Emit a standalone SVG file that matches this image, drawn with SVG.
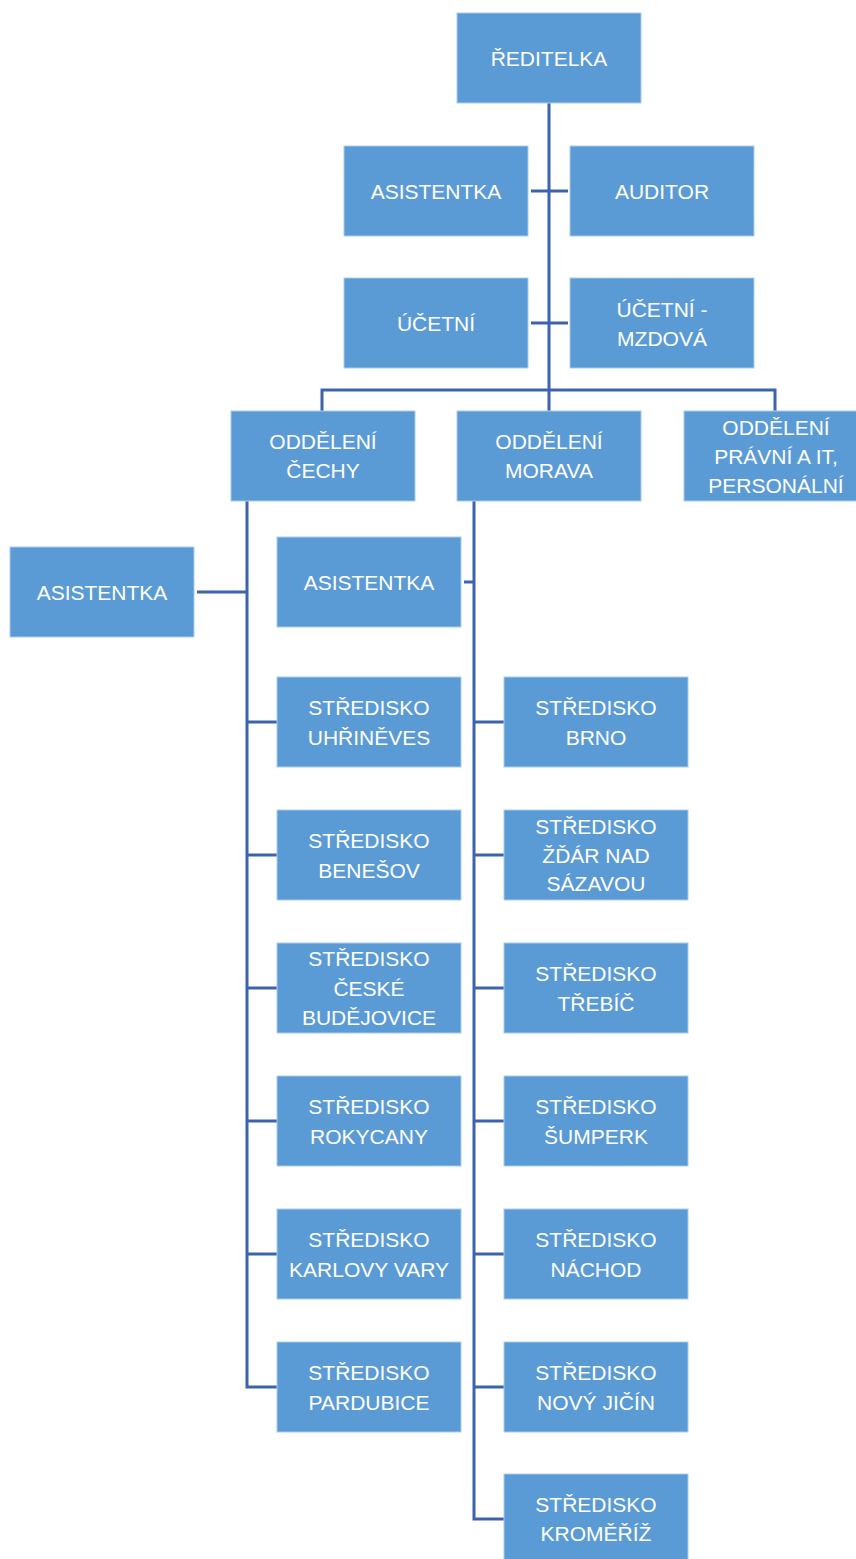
<svg xmlns="http://www.w3.org/2000/svg" width="856" height="1559" viewBox="0 0 856 1559">
<style>
.box{fill:#5B9BD5;stroke:#A9CBEA;stroke-width:1}
.t{font-family:"Liberation Sans",Arial,sans-serif;font-size:21px;fill:#ffffff;text-anchor:middle}
.c{fill:none;stroke:#3D63AE;stroke-width:3}
</style>
<rect width="856" height="1559" fill="#ffffff"/>
<g id="connectors">
<path class="c" d="M549,103 V411"/>
<path class="c" d="M531,191 H568"/>
<path class="c" d="M531,323 H568"/>
<path class="c" d="M322,411 V390 H775 V411"/>
<path class="c" d="M247,501 V1387 H277"/>
<path class="c" d="M197,592 H247"/>
<path class="c" d="M247,722 H277 M247,855 H277 M247,988 H277 M247,1121 H277 M247,1254 H277"/>
<path class="c" d="M474,501 V1519 H504"/>
<path class="c" d="M464,582 H474"/>
<path class="c" d="M474,722 H504 M474,855 H504 M474,988 H504 M474,1121 H504 M474,1254 H504 M474,1387 H504"/>
</g>
<g id="reditelka"><rect class="box" x="457" y="13" width="184" height="90"/><text class="t" x="549" y="65.5">ŘEDITELKA</text></g>
<g id="asistentka1"><rect class="box" x="344" y="146" width="184" height="90"/><text class="t" x="436" y="198.5">ASISTENTKA</text></g>
<g id="auditor"><rect class="box" x="570" y="146" width="184" height="90"/><text class="t" x="662" y="198.5">AUDITOR</text></g>
<g id="ucetni"><rect class="box" x="344" y="278" width="184" height="90"/><text class="t" x="436" y="330.5">ÚČETNÍ</text></g>
<g id="ucetni-mzdova"><rect class="box" x="570" y="278" width="184" height="90"/><text class="t" x="662" y="316.5">ÚČETNÍ -</text><text class="t" x="662" y="345.5">MZDOVÁ</text></g>
<g id="odd-cechy"><rect class="box" x="231" y="411" width="184" height="90"/><text class="t" x="323" y="448.5">ODDĚLENÍ</text><text class="t" x="323" y="478">ČECHY</text></g>
<g id="odd-morava"><rect class="box" x="457" y="411" width="184" height="90"/><text class="t" x="549" y="448.5">ODDĚLENÍ</text><text class="t" x="549" y="478">MORAVA</text></g>
<g id="odd-pravni"><rect class="box" x="684" y="411" width="184" height="90"/><text class="t" x="776" y="434.5">ODDĚLENÍ</text><text class="t" x="776" y="463.5">PRÁVNÍ A IT,</text><text class="t" x="776" y="493">PERSONÁLNÍ</text></g>
<g id="asistentka-cechy"><rect class="box" x="10" y="547" width="184" height="90"/><text class="t" x="102" y="599.5">ASISTENTKA</text></g>
<g id="asistentka-morava"><rect class="box" x="277" y="537" width="184" height="90"/><text class="t" x="369" y="589.5">ASISTENTKA</text></g>
<g id="s-uhrineves"><rect class="box" x="277" y="677" width="184" height="90"/><text class="t" x="369" y="714.5">STŘEDISKO</text><text class="t" x="369" y="744.5">UHŘINĚVES</text></g>
<g id="s-benesov"><rect class="box" x="277" y="810" width="184" height="90"/><text class="t" x="369" y="847.5">STŘEDISKO</text><text class="t" x="369" y="877.5">BENEŠOV</text></g>
<g id="s-budejovice"><rect class="box" x="277" y="943" width="184" height="90"/><text class="t" x="369" y="965.5">STŘEDISKO</text><text class="t" x="369" y="995.5">ČESKÉ</text><text class="t" x="369" y="1024.5">BUDĚJOVICE</text></g>
<g id="s-rokycany"><rect class="box" x="277" y="1076" width="184" height="90"/><text class="t" x="369" y="1113.5">STŘEDISKO</text><text class="t" x="369" y="1143.5">ROKYCANY</text></g>
<g id="s-karlovy-vary"><rect class="box" x="277" y="1209" width="184" height="90"/><text class="t" x="369" y="1246.5">STŘEDISKO</text><text class="t" x="369" y="1276.5">KARLOVY VARY</text></g>
<g id="s-pardubice"><rect class="box" x="277" y="1342" width="184" height="90"/><text class="t" x="369" y="1379.5">STŘEDISKO</text><text class="t" x="369" y="1409.5">PARDUBICE</text></g>
<g id="s-brno"><rect class="box" x="504" y="677" width="184" height="90"/><text class="t" x="596" y="714.5">STŘEDISKO</text><text class="t" x="596" y="744.5">BRNO</text></g>
<g id="s-zdar"><rect class="box" x="504" y="810" width="184" height="90"/><text class="t" x="596" y="833.5">STŘEDISKO</text><text class="t" x="596" y="862.5">ŽĎÁR NAD</text><text class="t" x="596" y="891">SÁZAVOU</text></g>
<g id="s-trebic"><rect class="box" x="504" y="943" width="184" height="90"/><text class="t" x="596" y="980.5">STŘEDISKO</text><text class="t" x="596" y="1010.5">TŘEBÍČ</text></g>
<g id="s-sumperk"><rect class="box" x="504" y="1076" width="184" height="90"/><text class="t" x="596" y="1113.5">STŘEDISKO</text><text class="t" x="596" y="1143.5">ŠUMPERK</text></g>
<g id="s-nachod"><rect class="box" x="504" y="1209" width="184" height="90"/><text class="t" x="596" y="1246.5">STŘEDISKO</text><text class="t" x="596" y="1276.5">NÁCHOD</text></g>
<g id="s-novy-jicin"><rect class="box" x="504" y="1342" width="184" height="90"/><text class="t" x="596" y="1379.5">STŘEDISKO</text><text class="t" x="596" y="1409.5">NOVÝ JIČÍN</text></g>
<g id="s-kromeriz"><rect class="box" x="504" y="1474" width="184" height="90"/><text class="t" x="596" y="1511.5">STŘEDISKO</text><text class="t" x="596" y="1541">KROMĚŘÍŽ</text></g>
</svg>
